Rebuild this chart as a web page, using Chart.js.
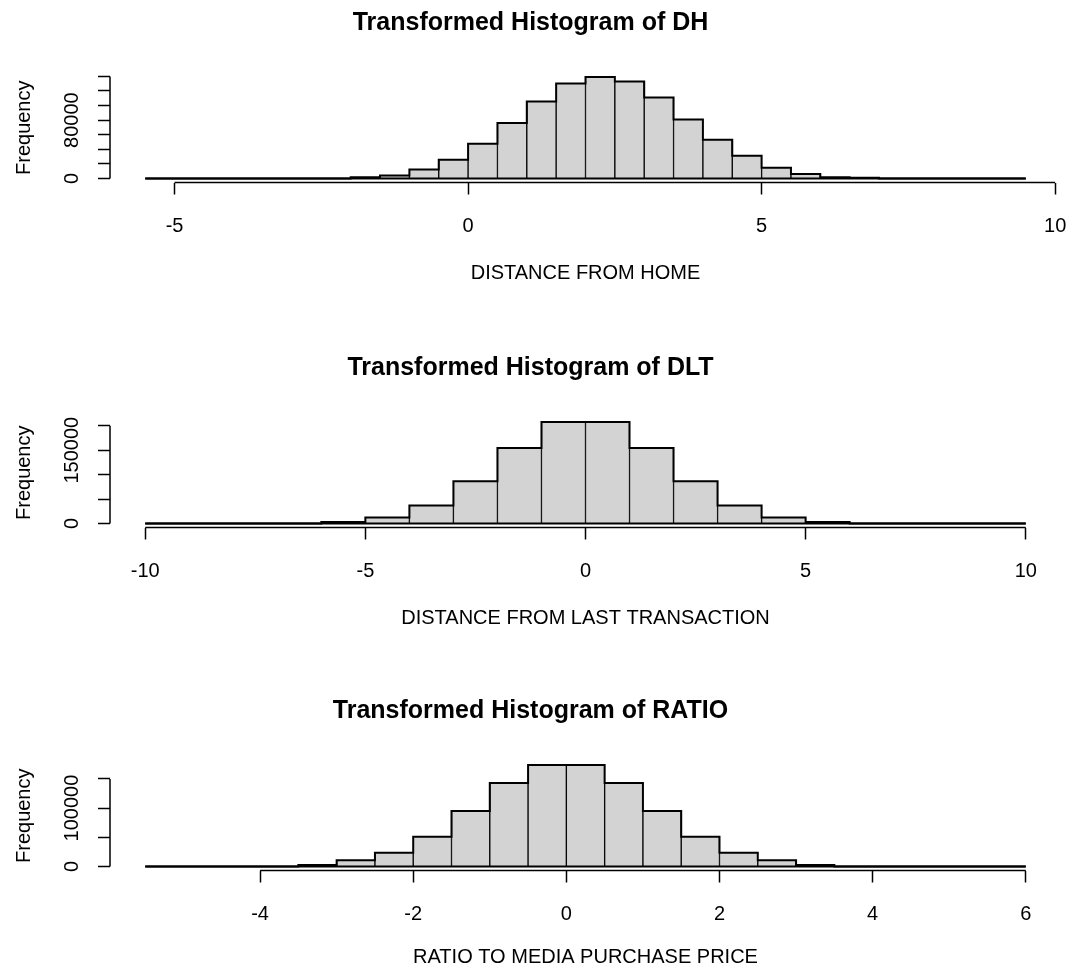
<!DOCTYPE html>
<html>
<head>
<meta charset="utf-8">
<script src="https://cdn.jsdelivr.net/npm/chart.js@4.4.1/dist/chart.umd.min.js"></script>
<style>
html,body{margin:0;padding:0;background:#fff;}
#wrap{position:relative;width:1070px;height:974px;overflow:hidden;background:#fff;}
canvas{position:absolute;left:0;}
</style>
</head>
<body>
<div id="wrap">
<canvas id="c1" width="1070" height="290" style="top:0px"></canvas>
<canvas id="c2" width="1070" height="290" style="top:345px"></canvas>
<canvas id="c3" width="1070" height="286" style="top:688px"></canvas>
</div>
<script>
// ---- DH ----
const dhTitle = 'Transformed Histogram of DH';
const dhXTitle = 'DISTANCE FROM HOME';
const dhBreaks = [-5.5,-5,-4.5,-4,-3.5,-3,-2.5,-2,-1.5,-1,-0.5,0,0.5,1,1.5,2,2.5,3,3.5,4,4.5,5,5.5,6,6.5,7,7.5,8,8.5,9,9.5];
const dhCounts = [0,0,0,0,0,0,0,1800,4100,12400,25700,47700,76200,105600,130400,139100,133100,111100,80800,53200,31200,14700,6000,1600,900,0,0,0,0,0];
const dhXTicks = [-5,0,5,10];
const dhXTickLabels = ['-5','0','5','10'];
const dhYTicks = [0,20000,40000,60000,80000,100000,120000,140000];
const dhYTickLabels = ['0','','','','80000','','',''];

// ---- DLT ----
const dltTitle = 'Transformed Histogram of DLT';
const dltXTitle = 'DISTANCE FROM LAST TRANSACTION';
const dltBreaks = [-10,-9,-8,-7,-6,-5,-4,-3,-2,-1,0,1,2,3,4,5,6,7,8,9,10];
const dltCounts = [0,0,0,0,3000,12200,36600,86100,154600,207500,207500,154600,86100,36600,12200,3000,0,0,0,0];
const dltXTicks = [-10,-5,0,5,10];
const dltXTickLabels = ['-10','-5','0','5','10'];
const dltYTicks = [0,50000,100000,150000,200000];
const dltYTickLabels = ['0','','','150000',''];

// ---- RATIO ----
const ratioTitle = 'Transformed Histogram of RATIO';
const ratioXTitle = 'RATIO TO MEDIA PURCHASE PRICE';
const ratioBreaks = [-5.5,-5,-4.5,-4,-3.5,-3,-2.5,-2,-1.5,-1,-0.5,0,0.5,1,1.5,2,2.5,3,3.5,4,4.5,5,5.5,6];
const ratioCounts = [0,0,0,0,2300,10800,23300,51100,94900,143100,173800,173800,143100,94900,51100,23300,10800,2300,0,0,0,0,0];
const ratioXTicks = [-4,-2,0,2,4,6];
const ratioXTickLabels = ['-4','-2','0','2','4','6'];
const ratioYTicks = [0,50000,100000,150000];
const ratioYTickLabels = ['0','','100000',''];

const yTitle = 'Frequency';

const FONT = "'Liberation Sans', Arial, Helvetica, sans-serif";
Chart.defaults.font.family = FONT;
Chart.defaults.color = '#000';

const CHART_TOP = 73;
const CHART_BOTTOM = 182.5;
const PLOT_LEFT = 110;
const LABEL_CENTER_X = 72;
const TITLE_PAD_TOP = 8;

const axisLines = {
  id: 'rAxisLines',
  afterDraw(chart, args, opts) {
    const {ctx, chartArea: ca, scales: {x, y}} = chart;
    const xt = opts.xTicks, yt = opts.yTicks;
    ctx.save();
    ctx.strokeStyle = '#000';
    ctx.lineWidth = 1.5;
    ctx.beginPath();
    ctx.moveTo(x.getPixelForValue(xt[0]), ca.bottom);
    ctx.lineTo(x.getPixelForValue(xt[xt.length - 1]), ca.bottom);
    ctx.moveTo(ca.left, y.getPixelForValue(yt[0]));
    ctx.lineTo(ca.left, y.getPixelForValue(yt[yt.length - 1]));
    ctx.stroke();
    ctx.restore();
  }
};

function makeHist(id, title, xTitle, breaks, counts, xTicks, xLabels, yTicks, yLabels) {
  const canvas = document.getElementById(id);
  const H = canvas.height;
  const nB = breaks.length;
  const maxC = Math.max(...counts);
  const xr = breaks[nB - 1] - breaks[0];
  const xmin = breaks[0] - 0.04 * xr, xmax = breaks[nB - 1] + 0.04 * xr;
  const ymin = -0.04 * maxC, ymax = 1.04 * maxC;

  const mctx = canvas.getContext('2d');
  mctx.font = '20px ' + FONT;
  const widest = Math.max(...yLabels.map(l => mctx.measureText(l).width));

  const barData = counts.map((c, i) => ({x: (breaks[i] + breaks[i + 1]) / 2, y: c}));
  const stepData = counts.map((c, i) => ({x: breaks[i], y: c}));
  stepData.push({x: breaks[nB - 1], y: counts[counts.length - 1]});
  const baseData = [{x: breaks[0], y: 0}, {x: breaks[nB - 1], y: 0}];

  const titleLH = 25 * 1.2;
  new Chart(canvas, {
    type: 'bar',
    data: {
      datasets: [
        {type: 'line', data: stepData, stepped: 'before', borderColor: '#000', borderWidth: 2,
         pointRadius: 0, fill: false, tension: 0, order: 0},
        {type: 'line', data: baseData, borderColor: '#000', borderWidth: 2,
         pointRadius: 0, fill: false, order: 0},
        {type: 'bar', data: barData, backgroundColor: '#d3d3d3', borderColor: '#000',
         borderWidth: {left: 1, right: 1, top: 0, bottom: 0}, borderSkipped: false,
         barPercentage: 1, categoryPercentage: 1, order: 1}
      ]
    },
    options: {
      responsive: false,
      animation: false,
      devicePixelRatio: 1,
      layout: {padding: {left: 0, right: 9, top: 0, bottom: 0}},
      plugins: {
        legend: {display: false},
        tooltip: {enabled: false},
        title: {display: true, text: title, color: '#000',
                font: {family: FONT, size: 25, weight: 'bold'},
                padding: {top: TITLE_PAD_TOP, bottom: CHART_TOP - TITLE_PAD_TOP - titleLH}},
        rAxisLines: {xTicks: xTicks, yTicks: yTicks}
      },
      scales: {
        x: {
          type: 'linear', min: xmin, max: xmax, offset: false,
          afterBuildTicks: s => { s.ticks = xTicks.map(v => ({value: v})); },
          afterFit: s => { s.height = H - CHART_BOTTOM; s.paddingLeft = 0; s.paddingRight = 0; },
          ticks: {autoSkip: false, maxRotation: 0, minRotation: 0, padding: 20, color: '#000',
                  font: {family: FONT, size: 20}, callback: (v, i) => xLabels[i]},
          grid: {display: true, offset: false, drawOnChartArea: false, drawTicks: true, tickLength: 12,
                 color: '#000', tickWidth: 1.5},
          border: {display: false},
          title: {display: true, text: xTitle, color: '#000', font: {family: FONT, size: 20},
                  padding: {top: 0, bottom: 5}}
        },
        y: {
          type: 'linear', min: ymin, max: ymax,
          afterBuildTicks: s => { s.ticks = yTicks.map(v => ({value: v})); },
          afterFit: s => { s.width = PLOT_LEFT; s.paddingTop = 0; s.paddingBottom = 0; },
          ticks: {autoSkip: false, minRotation: 90, maxRotation: 90, crossAlign: 'center',
                  padding: (PLOT_LEFT - LABEL_CENTER_X) - 12 - widest / 2, color: '#000',
                  font: {family: FONT, size: 20}, callback: (v, i) => yLabels[i]},
          grid: {display: true, offset: false, drawOnChartArea: false, drawTicks: true, tickLength: 12,
                 color: '#000', tickWidth: 1.5},
          border: {display: false},
          title: {display: true, text: yTitle, color: '#000', font: {family: FONT, size: 20},
                  padding: {top: 12, bottom: 0}}
        }
      }
    },
    plugins: [axisLines]
  });
}

makeHist('c1', dhTitle, dhXTitle, dhBreaks, dhCounts, dhXTicks, dhXTickLabels, dhYTicks, dhYTickLabels);
makeHist('c2', dltTitle, dltXTitle, dltBreaks, dltCounts, dltXTicks, dltXTickLabels, dltYTicks, dltYTickLabels);
makeHist('c3', ratioTitle, ratioXTitle, ratioBreaks, ratioCounts, ratioXTicks, ratioXTickLabels, ratioYTicks, ratioYTickLabels);
</script>
</body>
</html>
